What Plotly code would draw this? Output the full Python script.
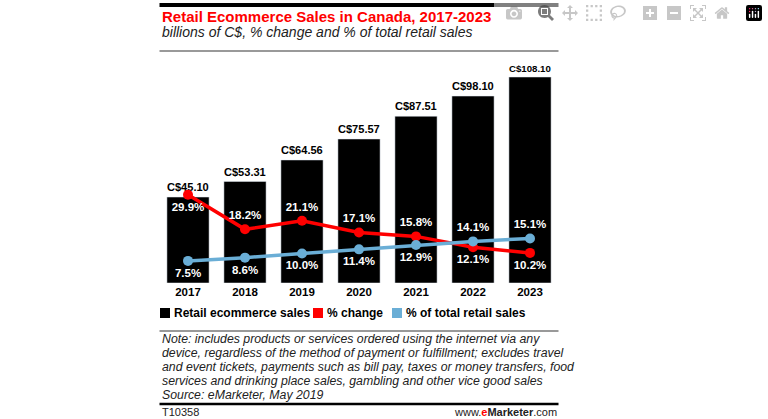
import plotly.graph_objects as go

years = ["2017", "2018", "2019", "2020", "2021", "2022", "2023"]
sales = [45.10, 53.31, 64.56, 75.57, 87.51, 98.10, 108.10]
pct_change = [29.9, 18.2, 21.1, 17.1, 15.8, 12.1, 10.2]
pct_total = [7.5, 8.6, 10.0, 11.4, 12.9, 14.1, 15.1]
sales_labels = ["C$%.2f" % v for v in sales]
chg_pos = ["bottom center"] + ["top center"] * 4 + ["bottom center"] * 2
tot_pos = ["bottom center"] * 5 + ["top center"] * 2

W, H = 768, 419
L, R = 159.5, 558.5
T, B = 65, 283
FONT = "Liberation Sans, Arial, sans-serif"

def px(x): return x / W
def py(y): return 1 - y / H

fig = go.Figure()
fig.add_trace(go.Bar(x=years, y=sales, marker_color="black", text=sales_labels,
                     textposition="outside", cliponaxis=False,
                     textfont=dict(family=FONT, size=12, color="black", weight="bold"),
                     name="Retail ecommerce sales"))
fig.add_trace(go.Scatter(x=years, y=pct_change, yaxis="y2", mode="lines+markers+text",
                         line=dict(color="#ff0000", width=3.5), marker=dict(size=10, color="#ff0000"),
                         text=[f"{v:.1f}%" for v in pct_change], textposition=chg_pos,
                         textfont=dict(family=FONT, size=11.5, color="white", weight="bold"),
                         cliponaxis=False, name="% change"))
fig.add_trace(go.Scatter(x=years, y=pct_total, yaxis="y2", mode="lines+markers+text",
                         line=dict(color="#6aaed6", width=3.5), marker=dict(size=10, color="#6aaed6"),
                         text=[f"{v:.1f}%" for v in pct_total], textposition=tot_pos,
                         textfont=dict(family=FONT, size=11.5, color="white", weight="bold"),
                         cliponaxis=False, name="% of total retail sales"))

fig.update_layout(
    width=W, height=H, margin=dict(l=0, r=0, t=0, b=0),
    paper_bgcolor="white", plot_bgcolor="white", showlegend=False,
    bargap=0.26,
    xaxis=dict(domain=[px(L), px(R)], showgrid=False, showline=False,
               tickfont=dict(family=FONT, size=11.5, color="black", weight="bold"), ticklen=0),
    yaxis=dict(domain=[py(B), py(T)], range=[0, 114.4], visible=False),
    yaxis2=dict(overlaying="y", range=[0, 73.9], visible=False),
)

shapes = [
    dict(type="line", xref="paper", yref="paper", x0=px(L), x1=px(R), y0=py(5), y1=py(5),
         line=dict(color="black", width=4)),
    dict(type="line", xref="paper", yref="paper", x0=px(L), x1=px(R), y0=py(51), y1=py(51),
         line=dict(color="#777", width=1.5)),
    dict(type="line", xref="paper", yref="paper", x0=px(L), x1=px(R), y0=py(331), y1=py(331),
         line=dict(color="#777", width=1.5)),
    dict(type="line", xref="paper", yref="paper", x0=px(L), x1=px(R), y0=py(404), y1=py(404),
         line=dict(color="black", width=2.5)),
]
ann = [
    dict(text="Retail Ecommerce Sales in Canada, 2017-2023", x=px(L), y=py(16),
         font=dict(family=FONT, size=15, color="#ff0000", weight="bold")),
    dict(text="<i>billions of C$, % change and % of total retail sales</i>", x=px(L), y=py(32),
         font=dict(family=FONT, size=14, color="#222")),
]
leg = [(160, "black", "Retail ecommerce sales"), (313, "#ff0000", "% change"),
       (392, "#6aaed6", "% of total retail sales")]
for x0, c, t in leg:
    shapes.append(dict(type="rect", xref="paper", yref="paper", x0=px(x0), x1=px(x0 + 10),
                       y0=py(318), y1=py(308), fillcolor=c, line=dict(width=0)))
    ann.append(dict(text=t, x=px(x0 + 12), y=py(313),
                    font=dict(family=FONT, size=12, color="black", weight="bold")))
notes = ["Note: includes products or services ordered using the internet via any",
         "device, regardless of the method of payment or fulfillment; excludes travel",
         "and event tickets, payments such as bill pay, taxes or money transfers, food",
         "services and drinking place sales, gambling and other vice good sales",
         "Source: eMarketer, May 2019"]
for i, n in enumerate(notes):
    ann.append(dict(text=f"<i>{n}</i>", x=px(L), y=py(339 + 14 * i),
                    font=dict(family=FONT, size=12.3, color="#222")))
ann.append(dict(text="T10358", x=px(L), y=py(412), font=dict(family=FONT, size=11, color="#222")))
ann.append(dict(text="www.<b><span style='color:#ff0000'>e</span>Marketer</b>.com", x=px(R), y=py(412),
                xanchor="right", font=dict(family=FONT, size=11, color="#222")))
for a in ann:
    a.setdefault("xanchor", "left")
    a.update(xref="paper", yref="paper", yanchor="middle", showarrow=False)
fig.update_layout(shapes=shapes, annotations=ann)
fig.write_html("out.html", post_script="document.body.style.margin='0';document.body.style.overflow='hidden';")
